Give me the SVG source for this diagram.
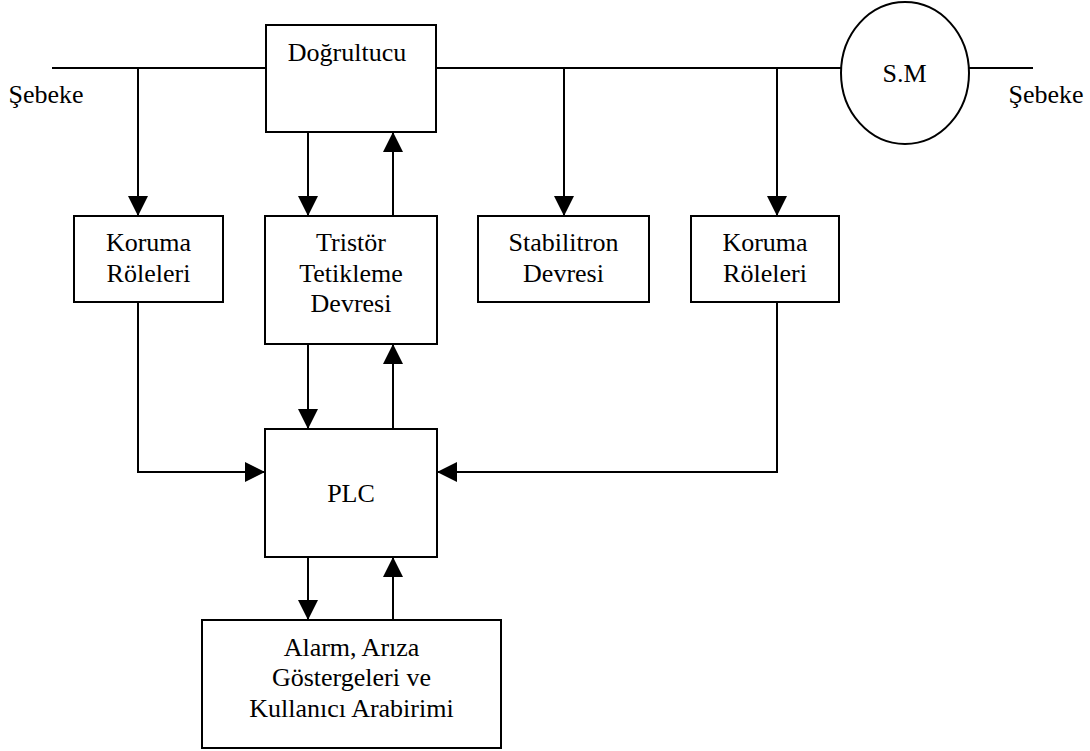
<svg xmlns="http://www.w3.org/2000/svg" width="1090" height="751" viewBox="0 0 1090 751">
<defs>
<style>
.box{fill:#fff;stroke:#000;stroke-width:2}
.ln{fill:none;stroke:#000;stroke-width:2}
.ar{fill:none;stroke:#000;stroke-width:2;marker-end:url(#ah)}
text{font-family:"Liberation Serif","Times New Roman",serif;font-size:26px;fill:#000;text-anchor:middle}
</style>
<marker id="ah" markerUnits="userSpaceOnUse" markerWidth="20" markerHeight="20" refX="20" refY="10" orient="auto">
<path d="M0,0 L20,10 L0,20 z" fill="#000"/>
</marker>
</defs>
<rect width="1090" height="751" fill="#fff"/>
<g id="connectors">
<line class="ln" x1="52" y1="68" x2="266" y2="68"/>
<line class="ln" x1="436" y1="68" x2="841" y2="68"/>
<line class="ln" x1="969" y1="68" x2="1033" y2="68"/>
<line class="ar" x1="138" y1="68" x2="138" y2="216"/>
<line class="ar" x1="564" y1="68" x2="564" y2="216"/>
<line class="ar" x1="777" y1="68" x2="777" y2="216"/>
<line class="ar" x1="308" y1="132" x2="308" y2="216"/>
<line class="ar" x1="393" y1="216" x2="393" y2="132"/>
<line class="ar" x1="308" y1="344" x2="308" y2="429"/>
<line class="ar" x1="393" y1="429" x2="393" y2="344"/>
<line class="ar" x1="308" y1="557" x2="308" y2="620"/>
<line class="ar" x1="393" y1="620" x2="393" y2="557"/>
<polyline class="ar" points="138,302 138,472 265,472"/>
<polyline class="ar" points="777,302 777,472 437,472"/>
</g>
<g id="sebeke-left"><text x="46" y="103">Şebeke</text></g>
<g id="sebeke-right"><text x="1046" y="103">Şebeke</text></g>
<g id="dogrultucu">
<rect class="box" x="266" y="25" width="170" height="107"/>
<text x="347" y="61">Doğrultucu</text>
</g>
<g id="sm">
<ellipse class="box" cx="905" cy="73" rx="64" ry="71"/>
<text x="904.5" y="82">S.M</text>
</g>
<g id="koruma-left">
<rect class="box" x="74" y="216" width="149" height="86"/>
<text x="148.5" y="251">Koruma</text>
<text x="148.5" y="282">Röleleri</text>
</g>
<g id="tristor">
<rect class="box" x="265" y="216" width="172" height="128"/>
<text x="351" y="251">Tristör</text>
<text x="351" y="282">Tetikleme</text>
<text x="351" y="312">Devresi</text>
</g>
<g id="stabilitron">
<rect class="box" x="478" y="216" width="171" height="86"/>
<text x="563.5" y="251">Stabilitron</text>
<text x="563.5" y="282">Devresi</text>
</g>
<g id="koruma-right">
<rect class="box" x="691" y="216" width="148" height="86"/>
<text x="765" y="251">Koruma</text>
<text x="765" y="282">Röleleri</text>
</g>
<g id="plc">
<rect class="box" x="265" y="429" width="172" height="128"/>
<text x="351" y="502">PLC</text>
</g>
<g id="alarm">
<rect class="box" x="202" y="620" width="299" height="128"/>
<text x="351.5" y="656">Alarm, Arıza</text>
<text x="351.5" y="686">Göstergeleri ve</text>
<text x="351.5" y="717">Kullanıcı Arabirimi</text>
</g>
</svg>
